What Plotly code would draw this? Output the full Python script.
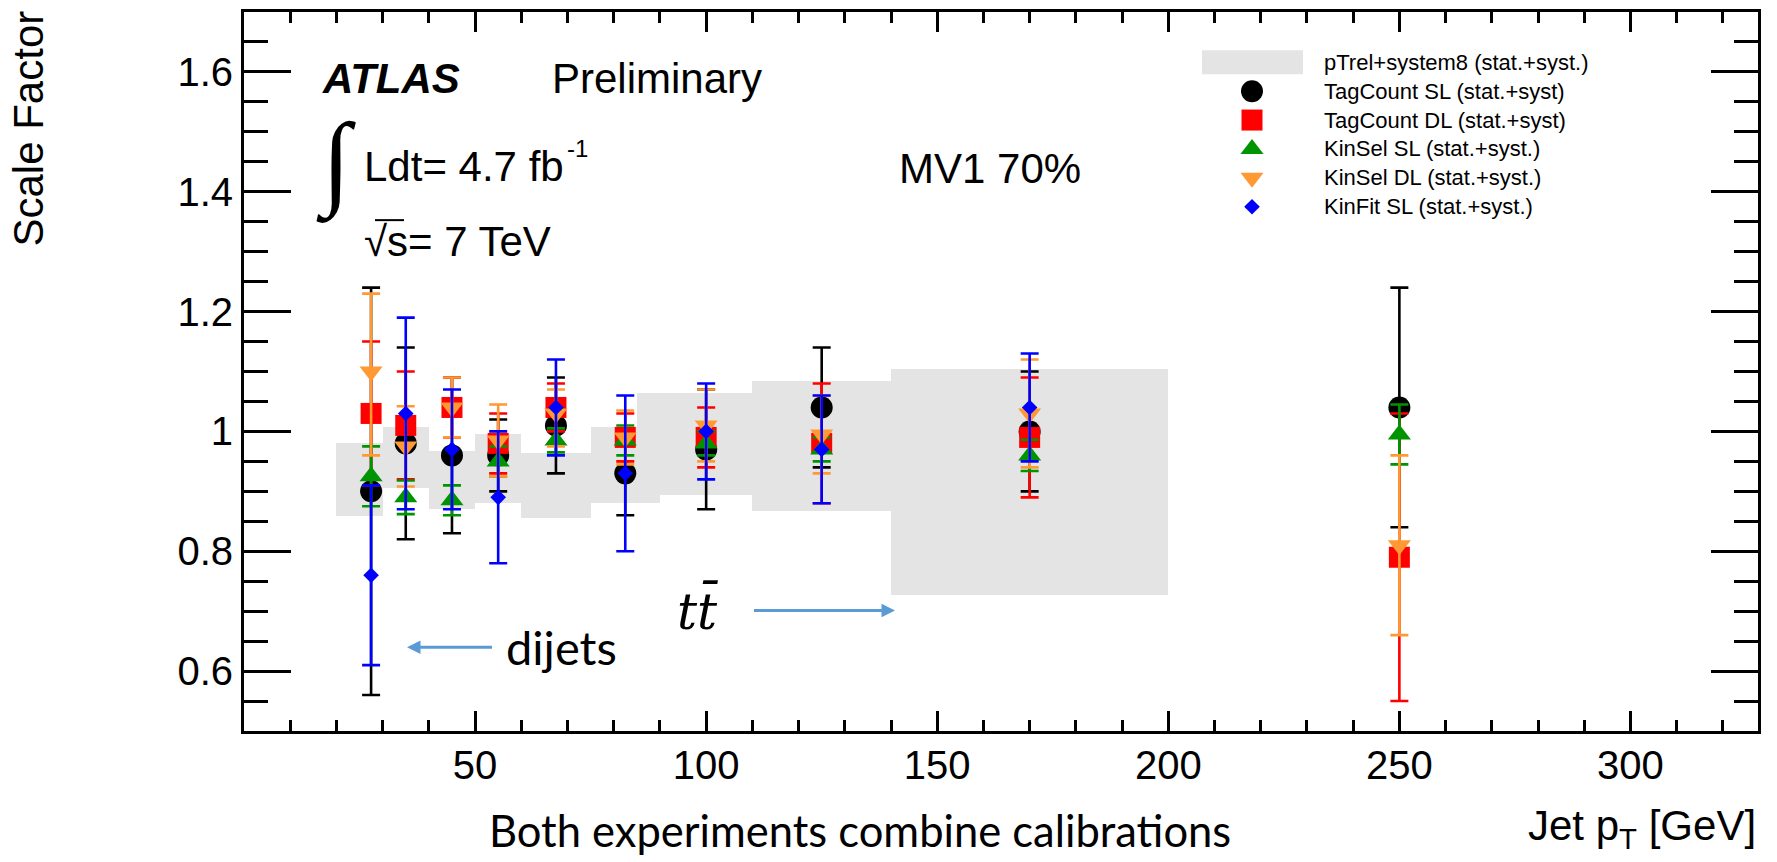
import plotly.graph_objects as go

# ---- pTrel+system8 calibration band (dijets): pT bin edges and SF envelope
BAND_PT_LO = [20, 30, 40, 50, 60, 75, 85, 110, 140]
BAND_PT_HI = [30, 40, 50, 60, 75, 90, 110, 140, 200]
BAND_SF_LO = [0.859, 0.905, 0.870, 0.880, 0.856, 0.880, 0.894, 0.868, 0.727]
BAND_SF_HI = [0.980, 1.008, 0.967, 0.996, 0.964, 1.008, 1.064, 1.084, 1.105]

# ---- ttbar calibrations: jet pT of each measurement point [GeV]
PT_TT = [27.5, 35, 45, 55, 67.5, 82.5, 100, 125, 170, 250]
PT_KINFIT = [27.5, 35, 45, 55, 67.5, 82.5, 100, 125, 170]

TAGCOUNT_SL = [0.90, 0.98, 0.96, 0.96, 1.01, 0.93, 0.97, 1.04, 1.00, 1.04]
TAGCOUNT_SL_ERR = [0.34, 0.16, 0.13, 0.06, 0.08, 0.07, 0.10, 0.10, 0.10, 0.20]

TAGCOUNT_DL = [1.03, 1.01, 1.04, 0.98, 1.04, 0.99, 0.99, 0.98, 0.99, 0.79]
TAGCOUNT_DL_ERR = [0.12, 0.09, 0.05, 0.05, 0.04, 0.04, 0.05, 0.10, 0.10, 0.24]

KINSEL_SL = [0.925, 0.89, 0.885, 0.95, 0.985, 0.985, 0.98, 0.97, 0.96, 0.995]
KINSEL_SL_ERR = [0.05, 0.028, 0.025, 0.025, 0.02, 0.025, 0.02, 0.02, 0.026, 0.05]

KINSEL_DL = [1.10, 0.975, 1.04, 0.985, 1.03, 0.99, 1.01, 0.995, 1.03, 0.81]
KINSEL_DL_ERR_UP = [0.13, 0.067, 0.05, 0.06, 0.04, 0.045, 0.06, 0.065, 0.09, 0.15]
KINSEL_DL_ERR_DN = [0.14, 0.067, 0.05, 0.06, 0.055, 0.045, 0.06, 0.065, 0.09, 0.15]

KINFIT_SL = [0.76, 1.03, 0.97, 0.89, 1.04, 0.93, 1.00, 0.97, 1.04]
KINFIT_SL_ERR = [0.15, 0.16, 0.10, 0.11, 0.08, 0.13, 0.08, 0.09, 0.09]

X_TICKS = [50, 100, 150, 200, 250, 300]
Y_TICKS = [0.6, 0.8, 1.0, 1.2, 1.4, 1.6]

LEGEND_LABELS = [
    "pTrel+system8 (stat.+syst.)",
    "TagCount SL (stat.+syst)",
    "TagCount DL (stat.+syst)",
    "KinSel SL (stat.+syst.)",
    "KinSel DL (stat.+syst.)",
    "KinFit SL (stat.+syst.)",
]

# ---- styles
BAND_COLOR = "#e4e4e4"
ARROW_COLOR = "#5b9bd5"
HELV = "Liberation Sans"
SLIDE_FONT = "Lato"

W, H = 1777, 862
PLOT_L, PLOT_R, PLOT_T, PLOT_B = 244, 1758, 9, 731


def px(x):
    """page pixel -> paper x"""
    return (x - PLOT_L) / (PLOT_R - PLOT_L)


def py(y):
    """page pixel -> paper y"""
    return (PLOT_B - y) / (PLOT_B - PLOT_T)


series = [
    # name, x, y, err_up, err_dn, color, symbol, size
    ("TagCount SL", PT_TT, TAGCOUNT_SL, TAGCOUNT_SL_ERR, TAGCOUNT_SL_ERR, "#000000", "circle", 22),
    ("TagCount DL", PT_TT, TAGCOUNT_DL, TAGCOUNT_DL_ERR, TAGCOUNT_DL_ERR, "#ff0000", "square", 21),
    ("KinSel SL", PT_TT, KINSEL_SL, KINSEL_SL_ERR, KINSEL_SL_ERR, "#009400", "triangle-up", 20),
    ("KinSel DL", PT_TT, KINSEL_DL, KINSEL_DL_ERR_UP, KINSEL_DL_ERR_DN, "#ff9933", "triangle-down", 20),
    ("KinFit SL", PT_KINFIT, KINFIT_SL, KINFIT_SL_ERR, KINFIT_SL_ERR, "#0000ff", "diamond", 12),
]

fig = go.Figure()

# dijet band as floating bars spanning [SF_lo, SF_hi] over each pT bin
fig.add_trace(go.Bar(
    x=[(a + b) / 2 for a, b in zip(BAND_PT_LO, BAND_PT_HI)],
    width=[b - a for a, b in zip(BAND_PT_LO, BAND_PT_HI)],
    base=BAND_SF_LO,
    y=[h - l for l, h in zip(BAND_SF_LO, BAND_SF_HI)],
    marker=dict(color=BAND_COLOR, line=dict(width=0), opacity=1),
    name=LEGEND_LABELS[0],
    showlegend=False,
    hoverinfo="skip",
))

for name, xs, ys, eu, ed, col, sym, size in series:
    fig.add_trace(go.Scatter(
        x=xs, y=ys, mode="markers", name=name, showlegend=False,
        marker=dict(color=col, symbol=sym, size=size, opacity=1, line=dict(width=0)),
        error_y=dict(type="data", symmetric=False, array=eu, arrayminus=ed,
                     color=col, thickness=2.6, width=9),
    ))

# ---- hand-placed legend box (pixel-unit overlay axes)
LEG_KEY_X = 1252
LEG_TEXT_X = 1322
LEG_ROW0 = 59.5
LEG_ROW_H = 29
leg_rows = [LEG_ROW0 + LEG_ROW_H * i for i in range(len(LEGEND_LABELS))]

for (name, _, _, _, _, col, sym, size), yy in zip(series, leg_rows[1:]):
    fig.add_trace(go.Scatter(
        x=[LEG_KEY_X], y=[yy], mode="markers",
        marker=dict(color=col, symbol=sym, size=size, opacity=1, line=dict(width=0)),
        xaxis="x2", yaxis="y2", showlegend=False, hoverinfo="skip",
    ))

shapes = [dict(type="rect", xref="paper", yref="paper",
               x0=px(LEG_KEY_X - 50), x1=px(LEG_KEY_X + 51),
               y0=py(leg_rows[0] - 12), y1=py(leg_rows[0] + 12),
               fillcolor=BAND_COLOR, line=dict(width=0), layer="below")]

annotations = []
for lab, yy in zip(LEGEND_LABELS, leg_rows):
    annotations.append(dict(text=lab, xref="paper", yref="paper",
                            x=px(LEG_TEXT_X), y=py(yy), xanchor="left", yanchor="middle",
                            showarrow=False, font=dict(family=HELV, size=22, color="#000")))


def label(text, x, y, size=42, family=HELV, xanchor="left", yanchor="middle", **kw):
    annotations.append(dict(text=text, xref="paper", yref="paper", x=px(x), y=py(y),
                            xanchor=xanchor, yanchor=yanchor, showarrow=False,
                            font=dict(family=family, size=size, color="#000"), **kw))


def arrow_label(text, x_text, x_head, y, size, family, pad):
    """text with a flat arrow running from its box edge to x_head"""
    annotations.append(dict(text=text, xref="paper", yref="paper", x=px(x_head), y=py(y),
                            ax=x_text - x_head, ay=0, axref="pixel", ayref="pixel",
                            showarrow=True, arrowhead=2, arrowsize=0.9, arrowwidth=3,
                            arrowcolor=ARROW_COLOR, borderpad=pad,
                            font=dict(family=family, size=size, color="#000")))


# ATLAS block
label("<b><i>ATLAS</i></b>", 320, 76)
label("Preliminary", 550, 76)
label("\u222B", 336, 160, size=104, family="Liberation Serif", xanchor="center")
label("Ldt= 4.7 fb", 362, 164)
label("-1", 565, 146, size=24)
label("\u221As= 7 TeV", 362, 239)
shapes.append(dict(type="line", xref="paper", yref="paper",
                   x0=px(375), x1=px(404), y0=py(218), y1=py(218),
                   line=dict(color="#000", width=2)))
label("MV1 70%", 897, 166)

# axis titles
label("Scale Factor", 29, 126, textangle=-90, xanchor="center")
label("Jet p<sub>T</sub> [GeV]", 1758, 829, xanchor="right")

# slide annotations
arrow_label("dijets", 561, 407, 647, 47, SLIDE_FONT, 13)
arrow_label("<i>tt\u0304</i>", 697, 895, 610, 50, "DejaVu Serif", 36)
label("Both experiments combine calibrations", 860, 830, size=43.5, family=SLIDE_FONT,
      xanchor="center")

axis_common = dict(showline=True, linecolor="#000", linewidth=3, mirror="allticks",
                   ticks="inside", tickcolor="#000", tickwidth=2.5,
                   showgrid=False, zeroline=False,
                   tickfont=dict(family=HELV, size=40, color="#000"))

fig.update_layout(
    width=W, height=H,
    margin=dict(l=PLOT_L, r=W - PLOT_R, t=PLOT_T, b=H - PLOT_B, pad=0),
    paper_bgcolor="#ffffff", plot_bgcolor="#ffffff",
    barmode="overlay", bargap=0,
    showlegend=False,
    xaxis=dict(range=[0, 327.6], tickvals=X_TICKS, ticklen=20,
               minor=dict(ticks="inside", dtick=10, tick0=0, ticklen=11,
                          tickwidth=2.5, tickcolor="#000", showgrid=False),
               ticklabelstandoff=-3, **axis_common),
    yaxis=dict(range=[0.5, 1.7], tickvals=Y_TICKS, ticklen=47,
               minor=dict(ticks="inside", dtick=0.05, tick0=0.5, ticklen=24,
                          tickwidth=2.5, tickcolor="#000", showgrid=False),
               ticklabelstandoff=0, **axis_common),
    xaxis2=dict(range=[PLOT_L, PLOT_R], overlaying="x", visible=False, fixedrange=True),
    yaxis2=dict(range=[PLOT_B, PLOT_T], overlaying="y", visible=False, fixedrange=True),
    shapes=shapes,
    annotations=annotations,
)

fig.write_html("out.html")
